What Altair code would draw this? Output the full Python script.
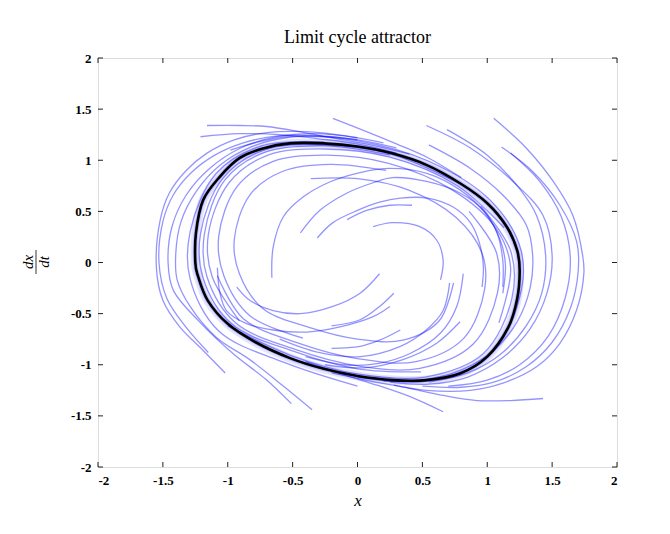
import altair as alt
import pandas as pd

TITLE = "Limit cycle attractor"
X_TITLE = "x"
Y_TITLE_NUM = "dx"
Y_TITLE_DEN = "dt"
TICKS = [-2, -1.5, -1, -0.5, 0, 0.5, 1, 1.5, 2]

# Limit cycle (black), traced clockwise, closed
LIMIT_CYCLE = [
    (-1.25, 0.0), (-1.245, 0.29), (-1.19, 0.61),
    (-1.06, 0.84), (-0.91, 1.02), (-0.73, 1.115), (-0.52, 1.165), (-0.26, 1.165),
    (0.0, 1.135), (0.26, 1.07), (0.53, 0.955), (0.79, 0.775), (1.0, 0.58),
    (1.15, 0.35), (1.23, 0.12), (1.25, -0.08), (1.23, -0.36), (1.16, -0.64),
    (1.0, -0.92), (0.79, -1.085), (0.53, -1.15), (0.27, -1.15), (0.0, -1.11),
    (-0.26, -1.04), (-0.52, -0.935), (-0.785, -0.78), (-1.0, -0.60), (-1.155, -0.37),
    (-1.23, -0.13),
]

# Outer trajectories, right side (from upper right, down and round the bottom)
R_A = [(0.53, 1.34), (0.87, 1.12), (1.20, 0.79), (1.43, 0.46), (1.50, 0.07), (1.46, -0.30),
       (1.33, -0.65), (1.12, -0.93), (0.85, -1.12), (0.55, -1.19), (0.25, -1.17)]
R_B = [(0.69, 1.30), (1.0, 1.05), (1.25, 0.72), (1.38, 0.46), (1.45, 0.07), (1.42, -0.30),
       (1.30, -0.62), (1.10, -0.90), (0.85, -1.08), (0.55, -1.17)]
R_C = [(0.55, 1.15), (0.87, 0.92), (1.12, 0.66), (1.30, 0.37), (1.35, 0.07), (1.33, -0.25),
       (1.23, -0.58), (1.05, -0.86), (0.80, -1.05), (0.50, -1.15), (0.20, -1.16)]
R_D = [(1.05, 1.41), (1.30, 1.12), (1.51, 0.79), (1.66, 0.46), (1.735, 0.07), (1.745, -0.10),
       (1.69, -0.46), (1.56, -0.79), (1.38, -1.02), (1.12, -1.18), (0.87, -1.25), (0.53, -1.25),
       (0.28, -1.20)]
R_E = [(1.11, 1.13), (1.35, 0.89), (1.56, 0.56), (1.69, 0.20), (1.70, -0.10), (1.64, -0.45),
       (1.50, -0.78), (1.30, -1.02), (1.05, -1.17), (0.80, -1.22), (0.50, -1.21)]
R_F = [(1.18, 1.07), (1.40, 0.80), (1.57, 0.45), (1.64, 0.05), (1.60, -0.35), (1.47, -0.72),
       (1.25, -1.0), (1.0, -1.15), (0.70, -1.21)]

# Outer trajectories starting below the cycle
B_G = [(1.43, -1.33), (1.18, -1.35), (0.92, -1.35), (0.66, -1.30), (0.40, -1.23), (0.10, -1.16),
       (-0.20, -1.08)]
B_H = [(0.66, -1.46), (0.40, -1.31), (0.15, -1.20), (-0.10, -1.10), (-0.40, -0.97)]

# Outer trajectories, left side (from lower left, up and over the top)
L_A = [(-0.35, -1.44), (-0.57, -1.21), (-0.83, -0.95), (-1.09, -0.73), (-1.29, -0.43),
       (-1.39, -0.17), (-1.40, 0.10), (-1.36, 0.40), (-1.24, 0.70), (-1.06, 0.95),
       (-0.82, 1.13), (-0.55, 1.22), (-0.25, 1.23), (0.05, 1.19), (0.30, 1.12)]
L_B = [(-0.51, -1.38), (-0.70, -1.15), (-0.96, -0.89), (-1.21, -0.59), (-1.42, -0.27),
       (-1.46, 0.0), (-1.43, 0.35), (-1.32, 0.66), (-1.14, 0.92), (-0.90, 1.12),
       (-0.62, 1.23), (-0.32, 1.26), (0.0, 1.22)]
L_C = [(-1.02, -1.08), (-1.19, -0.86), (-1.37, -0.63), (-1.50, -0.37), (-1.55, -0.05),
       (-1.52, 0.42), (-1.45, 0.68), (-1.32, 0.90), (-1.16, 1.07), (-0.95, 1.20),
       (-0.70, 1.27), (-0.40, 1.28), (-0.10, 1.24), (0.20, 1.17)]
L_D = [(-1.15, -0.88), (-1.33, -0.62), (-1.47, -0.35), (-1.53, 0.0), (-1.50, 0.40),
       (-1.42, 0.66), (-1.28, 0.88), (-1.10, 1.05), (-0.88, 1.17), (-0.60, 1.24),
       (-0.30, 1.24), (0.0, 1.20)]

# Outer trajectories starting above the cycle
T_1 = [(-1.16, 1.34), (-0.90, 1.34), (-0.70, 1.33), (-0.45, 1.28), (-0.20, 1.22), (0.10, 1.15),
       (0.40, 1.06)]
T_2 = [(-1.21, 1.23), (-0.91, 1.26), (-0.60, 1.25), (-0.30, 1.21), (0.0, 1.16), (0.30, 1.07)]
T_3 = [(-0.19, 1.41), (0.05, 1.29), (0.30, 1.16), (0.55, 1.02), (0.80, 0.83)]

# Trajectories hugging the cycle
N_1 = [(-0.42, -0.74), (-0.83, -0.52), (-1.03, -0.13), (-1.07, 0.25), (-0.93, 0.74),
       (-0.65, 0.99), (-0.23, 1.05), (0.24, 0.97), (0.73, 0.71), (1.07, 0.33), (1.18, -0.05),
       (1.09, -0.59)]
N_2 = [(-0.36, 0.82), (0.0, 0.82), (0.39, 0.71), (0.76, 0.44), (0.96, 0.09), (0.98, -0.26),
       (0.82, -0.74), (0.45, -0.97), (0.0, -0.94), (-0.45, -0.79), (-0.88, -0.55),
       (-1.08, -0.13)]
N_3 = [(0.86, 0.50), (1.07, 0.10), (1.08, -0.29), (0.89, -0.80), (0.48, -1.035), (0.0, -1.01),
       (-0.48, -0.85), (-0.94, -0.59), (-1.16, -0.14), (-1.18, 0.28), (-1.02, 0.81),
       (-0.71, 1.08), (-0.25, 1.14), (0.25, 1.05)]
N_4 = [(0.49, -1.07), (0.0, -1.04), (-0.49, -0.87), (-0.97, -0.60), (-1.19, -0.15),
       (-1.21, 0.28), (-1.04, 0.82), (-0.72, 1.10), (-0.26, 1.15), (0.26, 1.06), (0.79, 0.77)]
N_5 = [(0.74, -0.20), (0.63, -0.57), (0.35, -0.76), (0.0, -0.75), (-0.36, -0.64),
       (-0.73, -0.45), (-0.91, -0.11), (-0.95, 0.22), (-0.83, 0.66), (-0.58, 0.89),
       (-0.21, 0.96), (0.22, 0.90)]
N_6 = [(-0.98, 1.10), (-0.55, 1.23), (0.0, 1.19), (0.55, 0.99), (1.03, 0.60), (1.26, 0.12),
       (1.25, -0.34), (1.015, -0.91), (0.535, -1.16), (0.0, -1.12)]
N_7 = [(0.0, -1.21), (-0.56, -0.98), (-1.07, -0.67), (-1.29, -0.16), (-1.29, 0.30),
       (-1.09, 0.87), (-0.74, 1.14), (-0.26, 1.18)]
N_8 = [(0.95, 0.55), (1.18, 0.115), (1.19, -0.35), (0.97, -0.89), (0.52, -1.12), (0.0, -1.09),
       (-0.51, -0.91), (-1.0, -0.62)]
N_9 = [(-0.91, -0.57), (-1.12, -0.14), (-1.15, 0.27), (-0.99, 0.78), (-0.69, 1.05),
       (-0.25, 1.11), (0.25, 1.03), (0.77, 0.75), (1.13, 0.34)]

# Inner trajectories spiralling outwards
I_A = [(-0.66, -0.15), (-0.65, 0.15), (-0.57, 0.45), (-0.42, 0.64), (-0.21, 0.79), (0.02, 0.88),
       (0.25, 0.92), (0.54, 0.87), (0.79, 0.71), (0.98, 0.49), (1.10, 0.22), (1.14, -0.02),
       (1.12, -0.30)]
I_B = [(-0.44, 0.29), (-0.29, 0.51), (-0.08, 0.68), (0.12, 0.78), (0.27, 0.83), (0.54, 0.79),
       (0.79, 0.68), (0.97, 0.51), (1.075, 0.29), (1.12, 0.02), (1.12, -0.24)]
I_C = [(-0.31, 0.24), (-0.19, 0.39), (0.0, 0.51), (0.17, 0.59), (0.33, 0.63), (0.54, 0.63),
       (0.74, 0.54), (0.87, 0.39), (0.94, 0.19), (0.97, -0.04), (0.96, -0.24)]
I_D = [(-0.08, 0.42), (0.07, 0.51), (0.25, 0.56), (0.42, 0.56)]
I_E = [(0.12, 0.35), (0.27, 0.39), (0.48, 0.35), (0.61, 0.22), (0.66, 0.02), (0.64, -0.17)]
I_F = [(0.17, -0.11), (0.02, -0.30), (-0.19, -0.43), (-0.44, -0.50), (-0.65, -0.47),
       (-0.83, -0.37), (-0.93, -0.24)]
I_G = [(0.25, -0.43), (0.12, -0.53), (-0.135, -0.63), (-0.39, -0.68), (-0.65, -0.66),
       (-0.85, -0.60), (-1.01, -0.47), (-1.06, -0.30), (-1.08, -0.05)]
I_H = [(0.71, -0.20), (0.66, -0.47), (0.53, -0.66), (0.33, -0.82), (0.02, -0.92), (-0.30, -0.88),
       (-0.60, -0.75)]
I_I = [(0.28, -0.30), (0.17, -0.43), (0.02, -0.56), (-0.20, -0.62)]
I_J = [(0.815, -0.11), (0.765, -0.43), (0.64, -0.69), (0.405, -0.89), (0.15, -0.99),
       (-0.10, -1.0), (-0.40, -0.92)]
I_K = [(0.33, -0.66), (0.17, -0.76), (0.02, -0.82), (-0.20, -0.84)]
I_L = [(0.79, -0.58), (0.61, -0.79), (0.35, -0.95), (0.05, -1.03), (-0.25, -1.0)]

TRAJECTORIES = {
    "R_A": R_A, "R_B": R_B, "R_C": R_C, "R_D": R_D, "R_E": R_E, "R_F": R_F,
    "B_G": B_G, "B_H": B_H,
    "L_A": L_A, "L_B": L_B, "L_C": L_C, "L_D": L_D,
    "T_1": T_1, "T_2": T_2, "T_3": T_3,
    "N_1": N_1, "N_2": N_2, "N_3": N_3, "N_4": N_4, "N_5": N_5, "N_6": N_6, "N_7": N_7,
    "N_8": N_8, "N_9": N_9,
    "I_A": I_A, "I_B": I_B, "I_C": I_C, "I_D": I_D, "I_E": I_E, "I_F": I_F,
    "I_G": I_G, "I_H": I_H, "I_I": I_I, "I_J": I_J, "I_K": I_K, "I_L": I_L,
}

rows = []
for name, pts in TRAJECTORIES.items():
    for i, (px, py) in enumerate(pts):
        rows.append({"id": name, "o": i, "x": px, "y": py})
traj_df = pd.DataFrame(rows)
cycle_df = pd.DataFrame([{"o": i, "x": px, "y": py} for i, (px, py) in enumerate(LIMIT_CYCLE)])
tick_df = pd.DataFrame({"x": TICKS, "y": TICKS})

W, H = 519, 409
SERIF = "Liberation Serif"

xs = alt.Scale(domain=[-2, 2], nice=False, zero=False)
ys = alt.Scale(domain=[-2, 2], nice=False, zero=False)

x_axis = alt.Axis(values=TICKS, labelExpr="'' + datum.value", ticks=False, domain=False,
                  grid=False, labelFont=SERIF, labelFontWeight="bold", labelFontSize=13,
                  labelColor="black", labelPadding=7, title=X_TITLE, titleFont=SERIF,
                  titleFontStyle="italic", titleFontWeight="normal", titleFontSize=17,
                  titleColor="black", titlePadding=5)
y_axis = alt.Axis(values=TICKS, labelExpr="'' + datum.value", ticks=False, domain=False,
                  grid=False, labelFont=SERIF, labelFontWeight="bold", labelFontSize=13,
                  labelColor="black", labelPadding=7, title=None)

X = alt.X("x:Q", scale=xs, axis=x_axis)
Y = alt.Y("y:Q", scale=ys, axis=y_axis)

halo = alt.Chart(cycle_df).mark_line(interpolate="cardinal-closed", tension=0, color="#4040ff",
                                     opacity=0.14, strokeWidth=9).encode(x=X, y=Y, order="o:Q")
halo2 = alt.Chart(cycle_df).mark_line(interpolate="cardinal-closed", tension=0, color="#2020ff",
                                      opacity=0.22, strokeWidth=4.5).encode(x=X, y=Y, order="o:Q")
blue = alt.Chart(traj_df).mark_line(interpolate="catmull-rom", color="#0000ff",
                                    opacity=0.42, strokeWidth=1.3).encode(
    x=X, y=Y, detail="id:N", order="o:Q")
black = alt.Chart(cycle_df).mark_line(interpolate="cardinal-closed", tension=0, color="black",
                                      strokeWidth=2.6).encode(x=X, y=Y, order="o:Q")

tick_style = dict(color="#222222", strokeWidth=1)
tb = alt.Chart(tick_df).mark_rule(**tick_style).encode(x=X, y=alt.value(H), y2=alt.value(H - 5))
tt = alt.Chart(tick_df).mark_rule(**tick_style).encode(x=X, y=alt.value(0), y2=alt.value(5))
tl = alt.Chart(tick_df).mark_rule(**tick_style).encode(y=Y, x=alt.value(0), x2=alt.value(5))
tr = alt.Chart(tick_df).mark_rule(**tick_style).encode(y=Y, x=alt.value(W), x2=alt.value(W - 5))

num = alt.Chart(pd.DataFrame({"s": [Y_TITLE_NUM]})).mark_text(
    angle=270, font=SERIF, fontStyle="italic", fontSize=15, color="black",
    baseline="middle", align="center").encode(text="s:N", x=alt.value(-70), y=alt.value(204))
den = alt.Chart(pd.DataFrame({"s": [Y_TITLE_DEN]})).mark_text(
    angle=270, font=SERIF, fontStyle="italic", fontSize=15, color="black",
    baseline="middle", align="center").encode(text="s:N", x=alt.value(-54), y=alt.value(204))
bar = alt.Chart(pd.DataFrame({"s": [0]})).mark_rule(color="black", strokeWidth=0.8).encode(
    x=alt.value(-62), y=alt.value(192), y2=alt.value(216))

chart = alt.layer(halo, halo2, blue, black, tb, tt, tl, tr, num, den, bar).properties(
    width=W, height=H,
    title=alt.TitleParams(TITLE, font=SERIF, fontSize=18, fontWeight="normal",
                          anchor="middle", offset=5, color="black"),
    autosize=alt.AutoSizeParams(type="none"),
    padding={"left": 90, "top": 50, "right": 45, "bottom": 59},
).configure_view(stroke="#222222", strokeWidth=1.5).configure(background="white")

chart.save("out.html", embed_options={"renderer": "svg", "actions": False})
